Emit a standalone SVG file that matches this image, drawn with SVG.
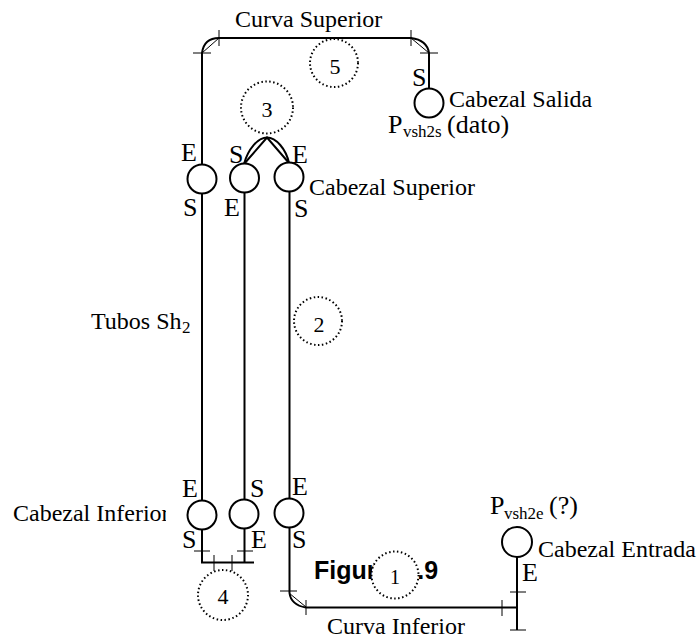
<svg xmlns="http://www.w3.org/2000/svg" width="697" height="641" viewBox="0 0 697 641">
<style>
.t{font-family:"Liberation Serif","Times New Roman",serif;font-size:24px;fill:#000}
.b{font-size:26px}
.sub{font-size:17px}
.n{font-family:"Liberation Serif","Times New Roman",serif;font-size:22px;fill:#000;text-anchor:middle}
.h{fill:#fff;stroke:#000;stroke-width:2}
.d{fill:#fff;stroke:#000;stroke-width:2;stroke-dasharray:1.500 2.500}
.l{fill:none;stroke:#000;stroke-width:2}
.k{fill:none;stroke:#000;stroke-width:1}
</style>
<rect width="697" height="641" fill="#fff"/>
<text x="314" y="579" font-family="Liberation Sans,Arial,sans-serif" font-size="25" font-weight="bold" word-spacing="6">Figura 1.9</text>
<g id="connectors">
<path class="l" d="M202 166V53Q204 38 219 38H411Q427 40 429 53V89"/>
<path class="k" d="M202 53L219 38M411 38L429 53M193 53H211M219 30V46M411 30V46M420 53H438"/>
<path class="l" d="M244 164C248 149 258 137.500 267 137.500C276 137.500 286 149 289 163"/>
<path class="l" d="M244 164L267 137.500L289 163" stroke-width="1.500"/>
<path class="l" d="M202 194V500M244.500 193V499M289.500 192V498"/>
<path class="l" d="M202 530V562.500H254M244.500 529V562"/>
<path class="k" d="M194 551H210M237 551H253M214 555V571M232 555V571"/>
<path class="l" d="M289.500 527V593Q291 605 306 607.500H517M517 557V630"/>
<path class="k" d="M289 593L306 607M280 591H297M306 600V615M502 600V616M510 592H526M510 630H526"/>
</g>
<g id="node-curva-superior"><text class="t" x="235" y="27">Curva Superior</text></g>
<g id="node-5"><circle class="d" cx="334" cy="63" r="24"/><text class="n" x="335" y="74">5</text></g>
<g id="node-3"><circle class="d" cx="267" cy="107.500" r="26"/><text class="n" x="267" y="117">3</text></g>
<g id="node-cabezal-salida"><circle class="h" cx="429" cy="103" r="14.500"/>
<text class="t b" x="412" y="86">S</text>
<text class="t" x="449" y="107">Cabezal Salida</text>
<text class="t b" x="388" y="133">P</text><text class="t sub" x="403" y="137">vsh2s</text><text class="t b" x="447" y="133">(dato)</text></g>
<g id="node-sup-1"><circle class="h" cx="202" cy="179" r="14.500"/><text class="t b" x="181" y="161">E</text><text class="t b" x="183" y="216">S</text></g>
<g id="node-sup-2"><circle class="h" cx="244.500" cy="178" r="14.500"/><text class="t b" x="229" y="163">S</text><text class="t b" x="224" y="216">E</text></g>
<g id="node-sup-3"><circle class="h" cx="289" cy="177" r="14.500"/><text class="t b" x="292" y="163">E</text><text class="t b" x="294" y="217">S</text>
<text class="t" x="309" y="195">Cabezal Superior</text></g>
<g id="node-tubos"><text class="t" x="91" y="329">Tubos Sh</text><text class="t sub" x="182" y="333">2</text></g>
<g id="node-2"><circle class="d" cx="318" cy="321" r="24"/><text class="n" x="319" y="332">2</text></g>
<g id="node-inf-1"><text class="t" x="13" y="521">Cabezal Inferior</text><rect x="166" y="500" width="20" height="28" fill="#fff"/><circle class="h" cx="202" cy="515" r="14.500"/><text class="t b" x="182" y="497">E</text><text class="t b" x="182" y="548">S</text></g>
<g id="node-inf-2"><circle class="h" cx="244" cy="514" r="14.500"/><text class="t b" x="250" y="497">S</text><text class="t b" x="251" y="548">E</text></g>
<g id="node-inf-3"><circle class="h" cx="289" cy="513" r="14.500"/><text class="t b" x="292" y="495">E</text><text class="t b" x="292" y="548">S</text></g>
<g id="node-4"><circle class="d" cx="223" cy="595" r="25"/><text class="n" x="223" y="604">4</text></g>
<g id="node-1"><circle class="d" cx="395" cy="575" r="23.500"/><text class="n" x="395" y="584" style="font-size:20px">1</text></g>
<g id="node-curva-inferior"><text class="t" x="327" y="634">Curva Inferior</text></g>
<g id="node-cabezal-entrada"><circle class="h" cx="517" cy="542" r="15"/>
<text class="t b" x="490" y="514">P</text><text class="t sub" x="504" y="519">vsh2e</text><text class="t b" x="549" y="514">(?)</text>
<text class="t" x="538" y="557">Cabezal Entrada</text>
<text class="t b" x="522" y="581">E</text></g>
</svg>
